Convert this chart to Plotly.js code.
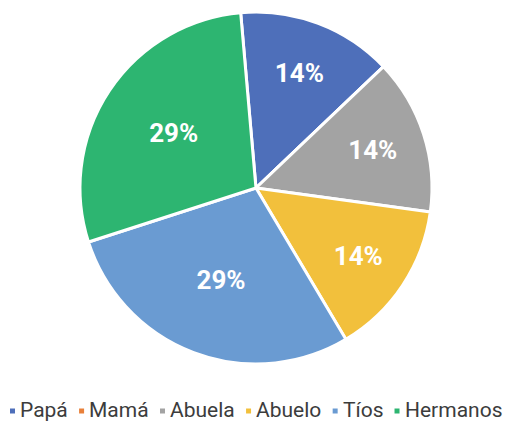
<!DOCTYPE html>
<html>
<head>
<meta charset="utf-8">
<script src="https://cdn.plot.ly/plotly-3.0.1.min.js"></script>
<style>html,body{margin:0;padding:0;background:#fff;}#chart{width:505px;height:424px;}</style>
</head>
<body>
<div id="chart"></div>
<script>
const labels = ["Papá", "Mamá", "Abuela", "Abuelo", "Tíos", "Hermanos"];
const values = [1, 0, 1, 1, 2, 2];
const colors = ["#4E6FBA", "#E8803A", "#A3A3A3", "#F2C03C", "#6A9BD2", "#2DB571"];

const W = 505, H = 424;
const legendFontSize = 21;
const legendFont = "Roboto, sans-serif";

const trace = {
  type: "pie",
  labels: labels,
  values: values,
  sort: false,
  direction: "clockwise",
  rotation: -5,
  marker: {colors: colors, line: {color: "#ffffff", width: 3}},
  textinfo: "percent",
  texttemplate: "%{percent:.0%}",
  textposition: "inside",
  insidetextorientation: "horizontal",
  textfont: {family: "Roboto, sans-serif", size: 26, color: "#ffffff", weight: "bold"},
  domain: {x: [0.1584, 0.8554], y: [0.1415, 0.9717]},
  hoverinfo: "none",
  showlegend: false
};

// Custom single-row legend (small squares + labels), laid out from measured text widths
const canvas = document.createElement("canvas");
const ctx = canvas.getContext("2d");
ctx.font = legendFontSize + "px " + legendFont;
const widths = labels.map(l => ctx.measureText(l).width);
const sq = 5, sqGap = 5;
const left = 10, right = 502;
const contentW = widths.reduce((a, w) => a + sq + sqGap + w, 0);
const gap = (right - left - contentW) / (labels.length - 1);
const legendY = 411;
const shapes = [];
const annotations = [];
let cx = left;
labels.forEach((l, i) => {
  shapes.push({
    type: "rect", xref: "paper", yref: "paper",
    x0: cx / W, x1: (cx + sq) / W,
    y0: (H - legendY - sq / 2) / H, y1: (H - legendY + sq / 2) / H,
    fillcolor: colors[i], line: {width: 0}
  });
  annotations.push({
    xref: "paper", yref: "paper",
    x: (cx + sq + sqGap - 1) / W, y: (H - legendY + 1) / H,
    xanchor: "left", yanchor: "middle",
    text: l, showarrow: false, borderpad: 0,
    font: {family: legendFont, size: legendFontSize, color: "#3c3c3c"}
  });
  cx += sq + sqGap + widths[i] + gap;
});

const layout = {
  width: W,
  height: H,
  margin: {l: 0, r: 0, t: 0, b: 0},
  paper_bgcolor: "#ffffff",
  showlegend: false,
  shapes: shapes,
  annotations: annotations
};

Plotly.newPlot("chart", [trace], layout, {displayModeBar: false, staticPlot: true});
</script>
</body>
</html>
